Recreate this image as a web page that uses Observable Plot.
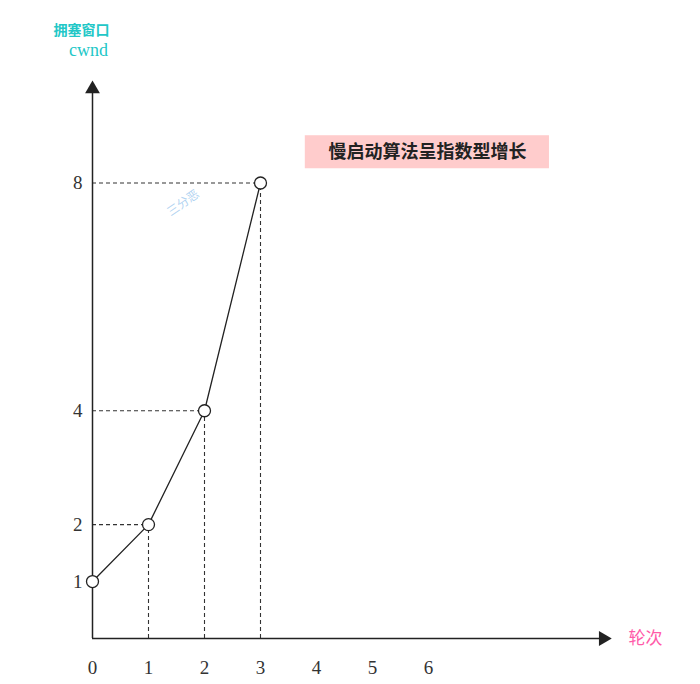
<!DOCTYPE html>
<html><head><meta charset="utf-8">
<script src="https://cdn.jsdelivr.net/npm/d3@7"></script>
<script src="https://cdn.jsdelivr.net/npm/@observablehq/plot@0.6"></script>
<style>body{margin:0;background:#fff}</style>
</head><body><div id="chart"></div>
<script>
const rounds = [0, 1, 2, 3];
const cwnd = [1, 2, 4, 8];
const xTicks = [0, 1, 2, 3, 4, 5, 6];
const yTicks = [1, 2, 4, 8];
const titleText = "慢启动算法呈指数型增长";
const yLabel = ["拥塞窗口", "cwnd"];
const xLabel = "轮次";

const pts = rounds.map((r, i) => ({x: r, y: cwnd[i]}));
const guides = pts.filter(d => d.x > 0);
const serif = "'Liberation Serif','DejaVu Serif',serif";
const cjk = "'Noto Sans CJK SC',sans-serif";

const chart = Plot.plot({
  width: 700, height: 684,
  marginLeft: 92, marginRight: 90, marginTop: 80, marginBottom: 46,
  x: {domain: [0, 9.25], axis: null},
  y: {domain: [0, 9.8], axis: null},
  style: {background: "#fff"},
  marks: [
    // title box
    Plot.rect([0], {x1: 3.80, x2: 8.16, y1: 8.25, y2: 8.83, fill: "#ffcccc"}),
    Plot.text([titleText], {x: 5.98, y: 8.54, text: d => d, fontFamily: cjk, fontSize: 18, fontWeight: 600, fill: "#222"}),
    // dashed guides
    Plot.ruleY(guides, {y: "y", x1: 0, x2: "x", stroke: "#333", strokeDasharray: "4,3", strokeWidth: 1.1}),
    Plot.ruleX(guides, {x: "x", y1: 0, y2: "y", stroke: "#333", strokeDasharray: "4,3", strokeWidth: 1.1}),
    // axes
    Plot.ruleY([0], {x1: 0, x2: 9.1, stroke: "#222", strokeWidth: 1.5}),
    Plot.ruleX([0], {y1: 0, y2: 9.6, stroke: "#222", strokeWidth: 1.5}),
    Plot.dot([{x: 9.12, y: 0}], {x: "x", y: "y", symbol: "triangle", r: 5.5, fill: "#222", rotate: 90}),
    Plot.dot([{x: 0, y: 9.65}], {x: "x", y: "y", symbol: "triangle", r: 5.5, fill: "#222"}),
    // data line and points
    Plot.line(pts, {x: "x", y: "y", stroke: "#222", strokeWidth: 1.3}),
    Plot.dot(pts, {x: "x", y: "y", r: 6, fill: "#fff", stroke: "#222", strokeWidth: 1.3}),
    // tick labels
    Plot.text(xTicks, {x: d => d, y: 0, text: d => String(d), dy: 29, fontFamily: serif, fontSize: 19, fill: "#333"}),
    Plot.text(yTicks, {x: 0, y: d => d, text: d => String(d), dx: -10, textAnchor: "end", fontFamily: serif, fontSize: 19, fill: "#333"}),
    // axis labels
    Plot.text([yLabel[0]], {x: 0, y: 9.8, text: d => d, dx: -11, dy: -50, fontFamily: cjk, fontSize: 14, fontWeight: 600, fill: "#22c7c7"}),
    Plot.text([yLabel[1]], {x: 0, y: 9.8, text: d => d, dx: -4, dy: -30, fontFamily: serif, fontSize: 18, fill: "#22c7c7"}),
    Plot.text([xLabel], {x: 9.25, y: 0, text: d => d, dx: 18, textAnchor: "start", fontFamily: cjk, fontSize: 17, fill: "#ff5aa8"}),
    // watermark
    Plot.text(["三分恶"], {x: 1.62, y: 7.65, text: d => d, rotate: -35, fontFamily: cjk, fontSize: 12, fill: "#9cc8ee", fillOpacity: 0.8})
  ]
});
document.getElementById("chart").append(chart);
</script>
</body></html>
